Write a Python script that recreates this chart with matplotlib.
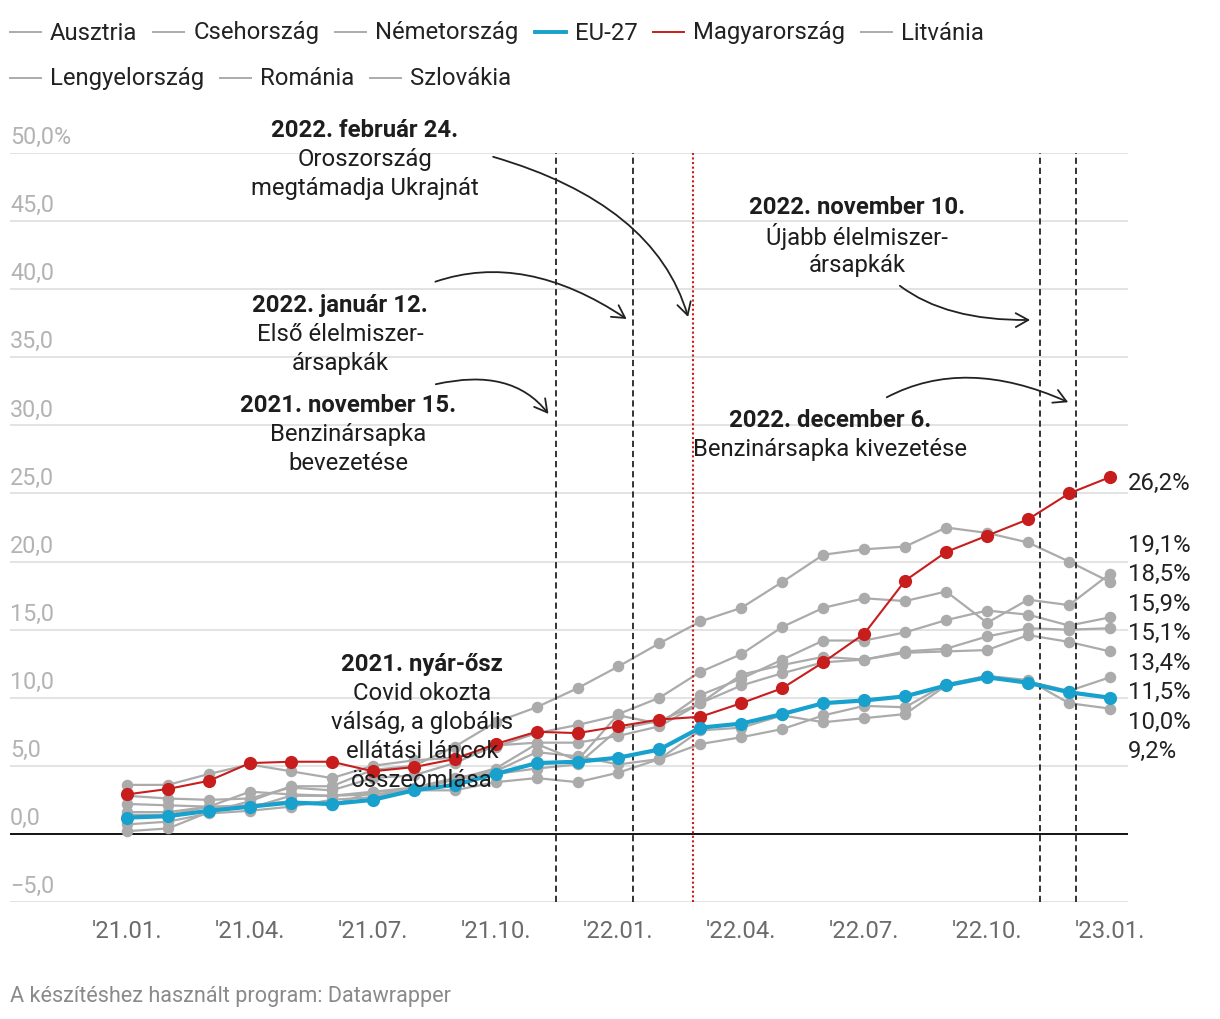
import calendar
import numpy as np
import matplotlib
matplotlib.use("Agg")
import matplotlib.pyplot as plt
from matplotlib.patches import FancyArrowPatch
from matplotlib.path import Path
from matplotlib.lines import Line2D

plt.rcParams['font.family'] = ['Roboto', 'DejaVu Sans']

# havi infláció (HICP, %), 2021.01. - 2023.01.
months = np.arange(25)
xtick_pos = [0, 3, 6, 9, 12, 15, 18, 21, 24]
xtick_labels = ["'21.01.", "'21.04.", "'21.07.", "'21.10.", "'22.01.",
                "'22.04.", "'22.07.", "'22.10.", "'23.01."]
ytick_vals = [-5, 0, 5, 10, 15, 20, 25, 30, 35, 40, 45, 50]
ytick_labels = ["\u22125,0", "0,0", "5,0", "10,0", "15,0", "20,0", "25,0",
                "30,0", "35,0", "40,0", "45,0", "50,0%"]

ausztria = [1.4, 1.4, 2.0, 1.9, 2.8, 2.8, 2.9, 3.2, 3.2, 3.8, 4.1, 3.8,
            4.5, 5.5, 6.6, 7.1, 7.7, 8.7, 9.4, 9.3, 11.0, 11.6, 11.2, 10.5, 11.5]
csehorszag = [2.2, 2.1, 2.0, 3.1, 2.9, 2.8, 3.1, 3.2, 4.0, 4.8, 6.6, 5.4,
              8.8, 10.0, 11.9, 13.2, 15.2, 16.6, 17.3, 17.1, 17.8, 15.5, 17.2, 16.8, 19.1]
nemetorszag = [1.6, 1.6, 2.0, 2.1, 2.4, 2.1, 3.1, 3.4, 4.1, 4.6, 6.0, 5.7,
               5.1, 5.5, 7.6, 7.8, 8.7, 8.2, 8.5, 8.8, 10.9, 11.6, 11.3, 9.6, 9.2]
eu27 = [1.2, 1.3, 1.7, 2.0, 2.3, 2.2, 2.5, 3.2, 3.6, 4.4, 5.2, 5.3,
        5.6, 6.2, 7.8, 8.1, 8.8, 9.6, 9.8, 10.1, 10.9, 11.5, 11.1, 10.4, 10.0]
magyarorszag = [2.9, 3.3, 3.9, 5.2, 5.3, 5.3, 4.6, 4.9, 5.5, 6.6, 7.5, 7.4,
                7.9, 8.4, 8.6, 9.6, 10.7, 12.6, 14.7, 18.6, 20.7, 21.9, 23.1, 25.0, 26.2]
litvania = [0.2, 0.4, 1.6, 2.4, 3.5, 3.5, 4.7, 5.0, 6.4, 8.2, 9.3, 10.7,
            12.3, 14.0, 15.6, 16.6, 18.5, 20.5, 20.9, 21.1, 22.5, 22.1, 21.4, 20.0, 18.5]
lengyelorszag = [3.6, 3.6, 4.4, 5.1, 4.6, 4.1, 5.0, 5.4, 5.6, 6.4, 7.4, 8.0,
                 8.7, 8.1, 10.2, 11.4, 12.8, 14.2, 14.2, 14.8, 15.7, 16.4, 16.1, 15.3, 15.9]
romania = [2.8, 2.6, 2.5, 2.6, 3.4, 3.2, 4.1, 4.3, 5.2, 6.5, 6.7, 6.7,
           7.2, 7.9, 9.6, 11.7, 12.4, 13.0, 12.8, 13.3, 13.4, 13.5, 14.6, 14.1, 13.4]
szlovakia = [0.7, 0.9, 1.5, 1.7, 2.0, 2.5, 2.7, 3.3, 4.0, 4.4, 4.8, 5.1,
             7.7, 8.3, 9.6, 10.9, 11.8, 12.6, 12.8, 13.4, 13.6, 14.5, 15.1, 15.0, 15.1]

names = ["Ausztria", "Csehország", "Németország", "EU-27", "Magyarország",
         "Litvánia", "Lengyelország", "Románia", "Szlovákia"]
series = [ausztria, csehorszag, nemetorszag, eu27, magyarorszag,
          litvania, lengyelorszag, romania, szlovakia]

# események (év, hónap, nap)
events = [(2021, 11, 15), (2022, 1, 12), (2022, 2, 24), (2022, 11, 10), (2022, 12, 6)]
event_dotted = [False, False, True, False, False]

GRAY = '#ababab'
RED = '#c71e1d'
BLUE = '#18a1cd'
FS = 17.2


def style(name):
    if name == "EU-27":
        return dict(color=BLUE, lw=3.0, ms=9.5, z=5)
    if name == "Magyarország":
        return dict(color=RED, lw=1.5, ms=9.5, z=4)
    return dict(color=GRAY, lw=1.6, ms=8.3, z=2)


def month_pos(y, m, d):
    days = calendar.monthrange(y, m)[1]
    return (y - 2021) * 12 + (m - 1) + (d - 1) / days


def spread(vals, gap):
    # címkék széthúzása (klaszterek összevonása), csökkenő sorrendben
    order = np.argsort(vals)[::-1]
    clusters = [[vals[i]] for i in order]
    merged = True
    while merged:
        merged = False
        out = []
        for c in clusters:
            if out:
                prev = out[-1]
                ptop = np.mean(prev) + gap * (len(prev) - 1) / 2
                pbot = ptop - gap * (len(prev) - 1)
                ctop = np.mean(c) + gap * (len(c) - 1) / 2
                if pbot - ctop < gap:
                    out[-1] = prev + c
                    merged = True
                    continue
            out.append(c)
        clusters = out
    pos = []
    for c in clusters:
        top = np.mean(c) + gap * (len(c) - 1) / 2
        pos += [top - k * gap for k in range(len(c))]
    res = np.empty(len(vals))
    res[order] = pos
    return res


W, H = 1220, 1020
fig = plt.figure(figsize=(W / 100, H / 100), dpi=100)
ax = fig.add_axes([10 / W, 1 - 903 / H, 1118 / W, 749 / H])
ax.set_xlim(-2.856, 24.44)
ax.set_ylim(-5, 50)
for s in ax.spines.values():
    s.set_visible(False)
ax.set_yticks([])

for v, lbl in zip(ytick_vals, ytick_labels):
    ax.axhline(v, color='#000000' if v == 0 else '#e3e3e3',
               lw=1.3 if v == 0 else 1.4, zorder=0 if v else 1)
    ax.annotate(lbl, xy=(0, v), xycoords=('axes fraction', 'data'),
                xytext=(0, 3.5), textcoords='offset points',
                ha='left', va='bottom', fontsize=16.8, color='#b3b3b3')

ax.set_xticks(xtick_pos, xtick_labels)
ax.tick_params(axis='x', length=0, pad=12, labelsize=FS, labelcolor='#6b6b6b')

# vonalak
for name, vals in zip(names, series):
    st = style(name)
    ax.plot(months, vals, color=st['color'], lw=st['lw'], marker='o',
            ms=st['ms'], mew=0, zorder=st['z'])

# végértékek címkéi
last = np.array([v[-1] for v in series])
label_y = spread(last, 29.5 / 13.62)
for v, ly in zip(last, label_y):
    ax.text(24.44, ly - 0.4, f"{v:.1f}%".replace('.', ','), ha='left', va='center',
            fontsize=FS, color='#222222', clip_on=False)

# eseményvonalak
for (y, m, d), dotted in zip(events, event_dotted):
    x = month_pos(y, m, d)
    if dotted:
        ax.axvline(x, color=RED, lw=1.5, ls=(0, (1, 1.2)), zorder=3)
    else:
        ax.axvline(x, color='#333333', lw=1.4, ls=(0, (3.2, 2)), zorder=3)

# szöveges megjegyzések
note_x = [5.81, 5.20, 5.40, 17.82, 17.16, 7.20]
note_y = [51.69, 38.84, 31.50, 46.04, 30.40, 12.48]
note_title = ["2022. február 24.", "2022. január 12.", "2021. november 15.",
              "2022. november 10.", "2022. december 6.", "2021. nyár-ősz"]
note_body = [["Oroszország", "megtámadja Ukrajnát"],
             ["Első élelmiszer-", "ársapkák"],
             ["Benzinársapka", "bevezetése"],
             ["Újabb élelmiszer-", "ársapkák"],
             ["Benzinársapka kivezetése"],
             ["Covid okozta", "válság, a globális", "ellátási láncok", "összeomlása"]]
step = 29 / 13.62
for x, y, t, body in zip(note_x, note_y, note_title, note_body):
    ax.text(x, y, t, ha='center', va='center', fontsize=FS,
            fontweight='bold', color='#1d1d1d', clip_on=False, zorder=6)
    for k, line in enumerate(body):
        ax.text(x, y - (k + 1) * step, line, ha='center', va='center',
                fontsize=FS, color='#1d1d1d', clip_on=False, zorder=6)

# nyilak: kezdőpont, kontrollpont, végpont
arrows = [[(8.94, 49.72), (12.89, 46.26), (13.70, 37.96)],
          [(7.53, 40.55), (9.72, 42.80), (12.20, 37.81)],
          [(7.54, 33.02), (9.40, 34.29), (10.29, 30.84)],
          [(18.87, 40.25), (20.00, 37.67), (22.05, 37.74)],
          [(18.55, 32.06), (20.46, 35.09), (22.98, 31.70)]]
for pts in arrows:
    p = Path(pts, [Path.MOVETO, Path.CURVE3, Path.CURVE3])
    ar = FancyArrowPatch(path=p, arrowstyle='->,head_length=0.45,head_width=0.25',
                         mutation_scale=20, lw=1.3, color='#222222',
                         transform=ax.transData, clip_on=False, zorder=6)
    ax.add_patch(ar)

# jelmagyarázat
renderer = fig.canvas.get_renderer()
x, yrow = 10, 33
for name in names:
    st = style(name)
    t = fig.text(0, 0, name, fontsize=FS, color='#222222', va='center', ha='left')
    w = t.get_window_extent(renderer).width
    if x + 40 + w > 1128:
        x, yrow = 10, yrow + 46
    fig.add_artist(Line2D([x / W, (x + 31) / W], [1 - yrow / H, 1 - yrow / H],
                          color=st['color'], lw=1.4 if name != "EU-27" else 2.8))
    t.set_position(((x + 40) / W, 1 - yrow / H))
    x = x + 40 + w + 16

fig.text(10 / W, 1 - 997 / H, "A készítéshez használt program: Datawrapper",
         fontsize=15.6, color='#8a8a8a', ha='left', va='center')

fig.savefig("out.png", dpi=100, facecolor='white')
